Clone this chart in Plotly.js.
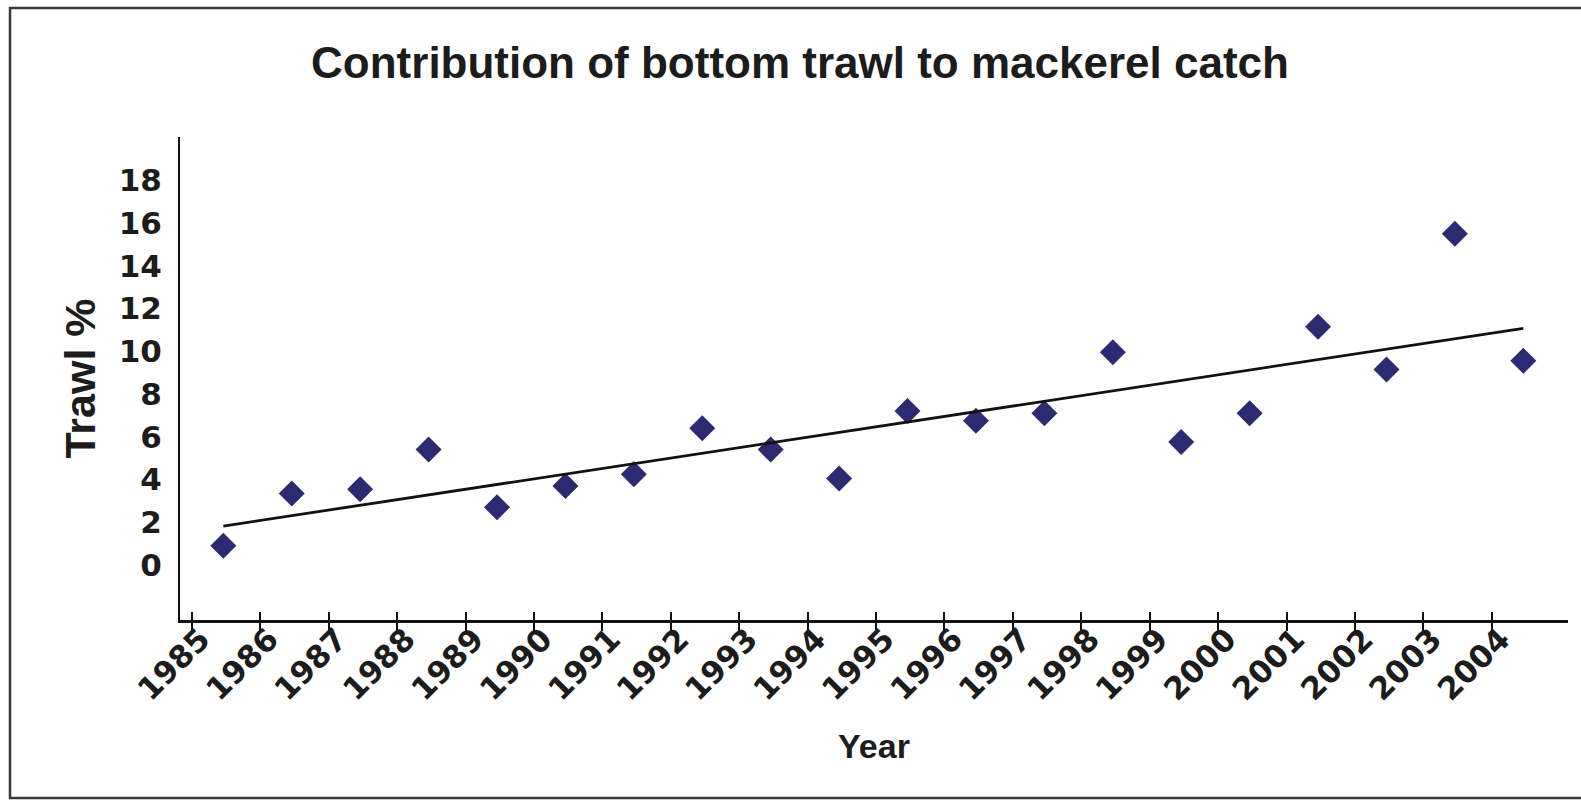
<!DOCTYPE html>
<html>
<head>
<meta charset="utf-8">
<script src="https://cdn.plot.ly/plotly-3.0.1.min.js"></script>
<style>
  html, body { margin: 0; padding: 0; background: #ffffff; }
  #chart { width: 1581px; height: 802px; }
</style>
</head>
<body>
<div id="chart"></div>
<script>
// ---- data ----
const years = [1985, 1986, 1987, 1988, 1989, 1990, 1991, 1992, 1993, 1994,
               1995, 1996, 1997, 1998, 1999, 2000, 2001, 2002, 2003, 2004];
const trawlPct = [0.9, 3.35, 3.55, 5.4, 2.7, 3.7, 4.25, 6.4, 5.4, 4.05,
                  7.2, 6.75, 7.1, 9.95, 5.75, 7.1, 11.15, 9.15, 15.5, 9.55];
const yTickVals = [0, 2, 4, 6, 8, 10, 12, 14, 16, 18];
const xTickText = years.map(String);

const chartTitle = 'Contribution of bottom trawl to mackerel catch';
const xTitle = 'Year';
const yTitle = 'Trawl %';

// ---- linear trend line (least squares over the plotted points) ----
const n = years.length;
const mx = years.reduce((a, b) => a + b, 0) / n;
const my = trawlPct.reduce((a, b) => a + b, 0) / n;
let sxy = 0, sxx = 0;
for (let i = 0; i < n; i++) {
  sxy += (years[i] - mx) * (trawlPct[i] - my);
  sxx += (years[i] - mx) * (years[i] - mx);
}
const slope = sxy / sxx;
const icpt = my - slope * mx;
const trendX = [years[0], years[n - 1]];
const trendY = trendX.map(x => icpt + slope * x);

// ---- style ----
const W = 1581, H = 802;
const M = { l: 180, r: 13, t: 137, b: 182 };
const PW = W - M.l - M.r, PH = H - M.t - M.b;
const tickOffset = 0.46; // ticks sit between categories
const xTickVals = years.map(y => y - tickOffset);

const arialBold = { family: 'Liberation Sans, Arial, sans-serif', color: '#1c1c1c', weight: 700 };
const tickFont = { family: 'DejaVu Sans, Verdana, sans-serif', color: '#1c1c1c', weight: 700, size: 31 };

const traces = [
  {
    x: years, y: trawlPct, type: 'scatter', mode: 'markers',
    marker: { symbol: 'diamond', size: 20, color: '#2c2b72', line: { width: 0 } },
    hoverinfo: 'x+y', showlegend: false
  },
  {
    x: trendX, y: trendY, type: 'scatter', mode: 'lines',
    xaxis: 'x2',
    line: { color: '#111111', width: 2.8 },
    hoverinfo: 'skip', showlegend: false
  }
];

const xRange = [1984.367, 2004.653];
const layout = {
  width: W, height: H,
  margin: M,
  paper_bgcolor: '#ffffff', plot_bgcolor: '#ffffff',
  showlegend: false,
  title: {
    text: chartTitle,
    font: Object.assign({}, arialBold, { size: 44 }),
    x: 800 / W, xref: 'container', xanchor: 'center',
    y: 1 - 63 / H, yref: 'container', yanchor: 'middle'
  },
  xaxis: {
    range: xRange, fixedrange: true,
    showgrid: false, zeroline: false,
    showline: true, linecolor: '#111111', linewidth: 2.5,
    tickmode: 'array', tickvals: xTickVals, ticktext: xTickText,
    ticks: 'outside', ticklen: 8, tickwidth: 2, tickcolor: '#111111',
    tickangle: -45, tickfont: tickFont,
    ticklabelshift: 9, ticklabelstandoff: -22,
    title: { text: xTitle, font: Object.assign({}, arialBold, { size: 34 }), standoff: 28 },
    automargin: false
  },
  xaxis2: {
    overlaying: 'x', matches: 'x', range: xRange, side: 'bottom',
    showgrid: false, zeroline: false, showline: false,
    tickmode: 'array', tickvals: xTickVals,
    ticks: 'inside', ticklen: 8, tickwidth: 2, tickcolor: '#111111',
    showticklabels: false
  },
  yaxis: {
    range: [-2.57, 20.02], fixedrange: true,
    showgrid: false, zeroline: false,
    showline: true, linecolor: '#111111', linewidth: 2,
    tickmode: 'array', tickvals: yTickVals,
    ticks: '', tickfont: tickFont, ticklabelstandoff: 10,
    title: { text: yTitle, font: Object.assign({}, arialBold, { size: 43 }), standoff: 10 },
    automargin: false
  },
  shapes: [
    {
      type: 'rect', xref: 'paper', yref: 'paper',
      x0: (10 - M.l) / PW, x1: (1600 - M.l) / PW,
      y0: (H - M.b - 798) / PH, y1: (H - M.b - 8) / PH,
      line: { color: '#3a3a3a', width: 2.5 }, fillcolor: 'rgba(0,0,0,0)', layer: 'below'
    }
  ]
};

Plotly.newPlot('chart', traces, layout, { staticPlot: true, displayModeBar: false });
</script>
</body>
</html>
